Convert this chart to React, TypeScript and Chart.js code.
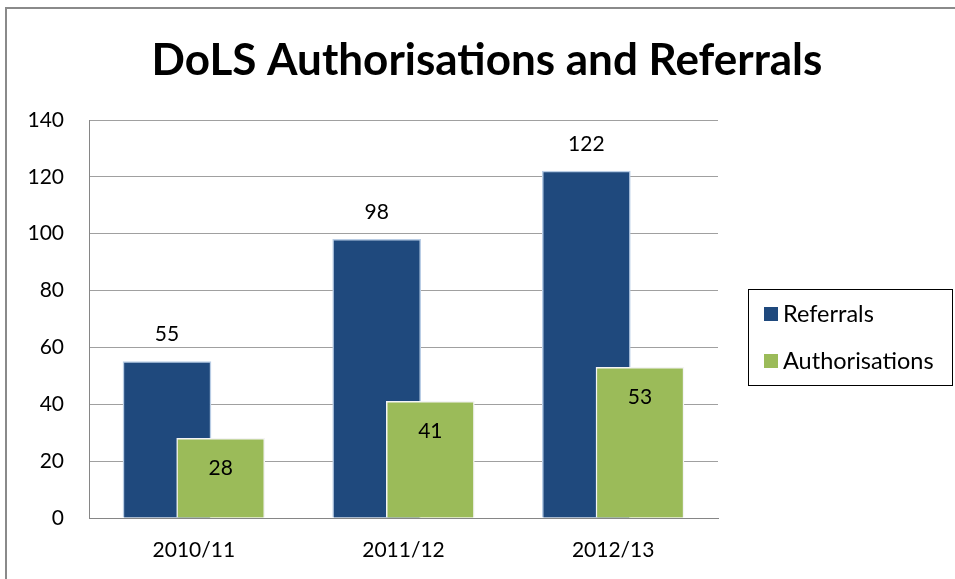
import { useEffect, useRef } from "react";
import { Chart, registerables } from "chart.js";

Chart.register(...registerables);

const TITLE = "DoLS Authorisations and Referrals";
const categories = ["2010/11", "2011/12", "2012/13"];
const seriesNames = ["Referrals", "Authorisations"];
const referrals = [55, 98, 122];
const authorisations = [28, 41, 53];
const yMin = 0;
const yMax = 140;
const yStep = 20;

const BLUE = "#1F497D";
const GREEN = "#9BBB59";
const FONT = "Lato, 'Open Sans', sans-serif";
// horizontal shift of each series from its category centre (in category units)
const SERIES_SHIFT = 0.128;
const BAR_PX = 88;

const framePlugin = {
  id: "frame",
  beforeDraw(chart: any) {
    const ctx = chart.ctx;
    ctx.save();
    ctx.fillStyle = "#ffffff";
    ctx.fillRect(0, 0, chart.width, chart.height);
    ctx.fillStyle = "#8a8a8a";
    ctx.fillRect(5, 7, 2, chart.height);
    ctx.fillRect(5, 7, chart.width, 2);
    ctx.restore();
  },
  afterDraw(chart: any) {
    const ctx = chart.ctx;
    ctx.save();
    // title
    ctx.fillStyle = "#000";
    ctx.font = `bold 44px ${FONT}`;
    ctx.textAlign = "center";
    ctx.textBaseline = "alphabetic";
    ctx.fillText(TITLE, 487, 75);
    // legend
    ctx.strokeStyle = "#000";
    ctx.lineWidth = 1;
    ctx.strokeRect(748.5, 289.5, 204, 96);
    ctx.font = `23.5px ${FONT}`;
    ctx.textAlign = "left";
    ctx.textBaseline = "middle";
    chart.data.datasets.forEach((ds: any, i: number) => {
      const cy = 314 + i * 47;
      ctx.fillStyle = ds.backgroundColor;
      ctx.fillRect(764, cy - 7, 14, 14);
      ctx.fillStyle = "#000";
      ctx.fillText(ds.label, 783, cy);
    });
    ctx.restore();
  },
};

const labelPlugin = {
  id: "valueLabels",
  afterDatasetsDraw(chart: any) {
    const ctx = chart.ctx;
    ctx.save();
    ctx.fillStyle = "#000";
    ctx.font = `21px ${FONT}`;
    ctx.textAlign = "center";
    ctx.textBaseline = "middle";
    chart.data.datasets.forEach((ds: any, i: number) => {
      const meta = chart.getDatasetMeta(i);
      meta.data.forEach((bar: any, j: number) => {
        const y = i === 0 ? bar.y - 27 : bar.y + 30;
        ctx.fillText(String(ds.data[j].y), bar.x, y);
      });
    });
    ctx.restore();
  },
};

export default function App() {
  const ref = useRef<HTMLCanvasElement>(null);
  useEffect(() => {
    if (!ref.current) return;
    const chart = new Chart(ref.current, {
      type: "bar",
      data: {
        datasets: [
          {
            label: seriesNames[0],
            data: referrals.map((v, i) => ({ x: i - SERIES_SHIFT, y: v })),
            backgroundColor: BLUE,
            borderColor: "#B9CDE5",
            borderWidth: 1.5,
            order: 1,
          },
          {
            label: seriesNames[1],
            data: authorisations.map((v, i) => ({ x: i + SERIES_SHIFT, y: v })),
            backgroundColor: GREEN,
            borderColor: "#F4F4F4",
            borderWidth: 1.5,
            order: 0,
          },
        ],
      },
      options: {
        responsive: false,
        animation: false,
        layout: { padding: { left: 0, right: 237, top: 120, bottom: 0 } },
        datasets: {
          bar: { grouped: false, barThickness: BAR_PX },
        } as any,
        plugins: {
          legend: { display: false },
          title: { display: false },
          tooltip: { enabled: false },
        },
        scales: {
          x: {
            type: "linear",
            offset: false,
            min: -0.5,
            max: categories.length - 0.5,
            grid: { display: false, drawTicks: false, offset: false },
            border: { display: true, color: "#868686", width: 1 },
            afterBuildTicks: (s: any) => {
              s.ticks = categories.map((_, i) => ({ value: i }));
            },
            ticks: {
              autoSkip: false,
              maxRotation: 0,
              color: "#000",
              font: { family: FONT, size: 21 },
              padding: 20,
              callback: (v: any) => categories[v] ?? "",
            },
            afterFit: (s: any) => {
              s.height = 61;
            },
          },
          y: {
            min: yMin,
            max: yMax,
            grid: { color: "#A0A0A0", drawTicks: false },
            border: { display: true, color: "#868686", width: 1 },
            ticks: { stepSize: yStep, color: "#000", font: { family: FONT, size: 21 }, padding: 25 },
            afterFit: (s: any) => {
              s.width = 89;
            },
          },
        },
      },
      plugins: [framePlugin, labelPlugin],
    });
    return () => chart.destroy();
  }, []);
  return (
    <div style={{ position: "absolute", left: 0, top: 0, width: 955, height: 579 }}>
      <canvas ref={ref} width={955} height={579} style={{ display: "block" }} />
    </div>
  );
}
